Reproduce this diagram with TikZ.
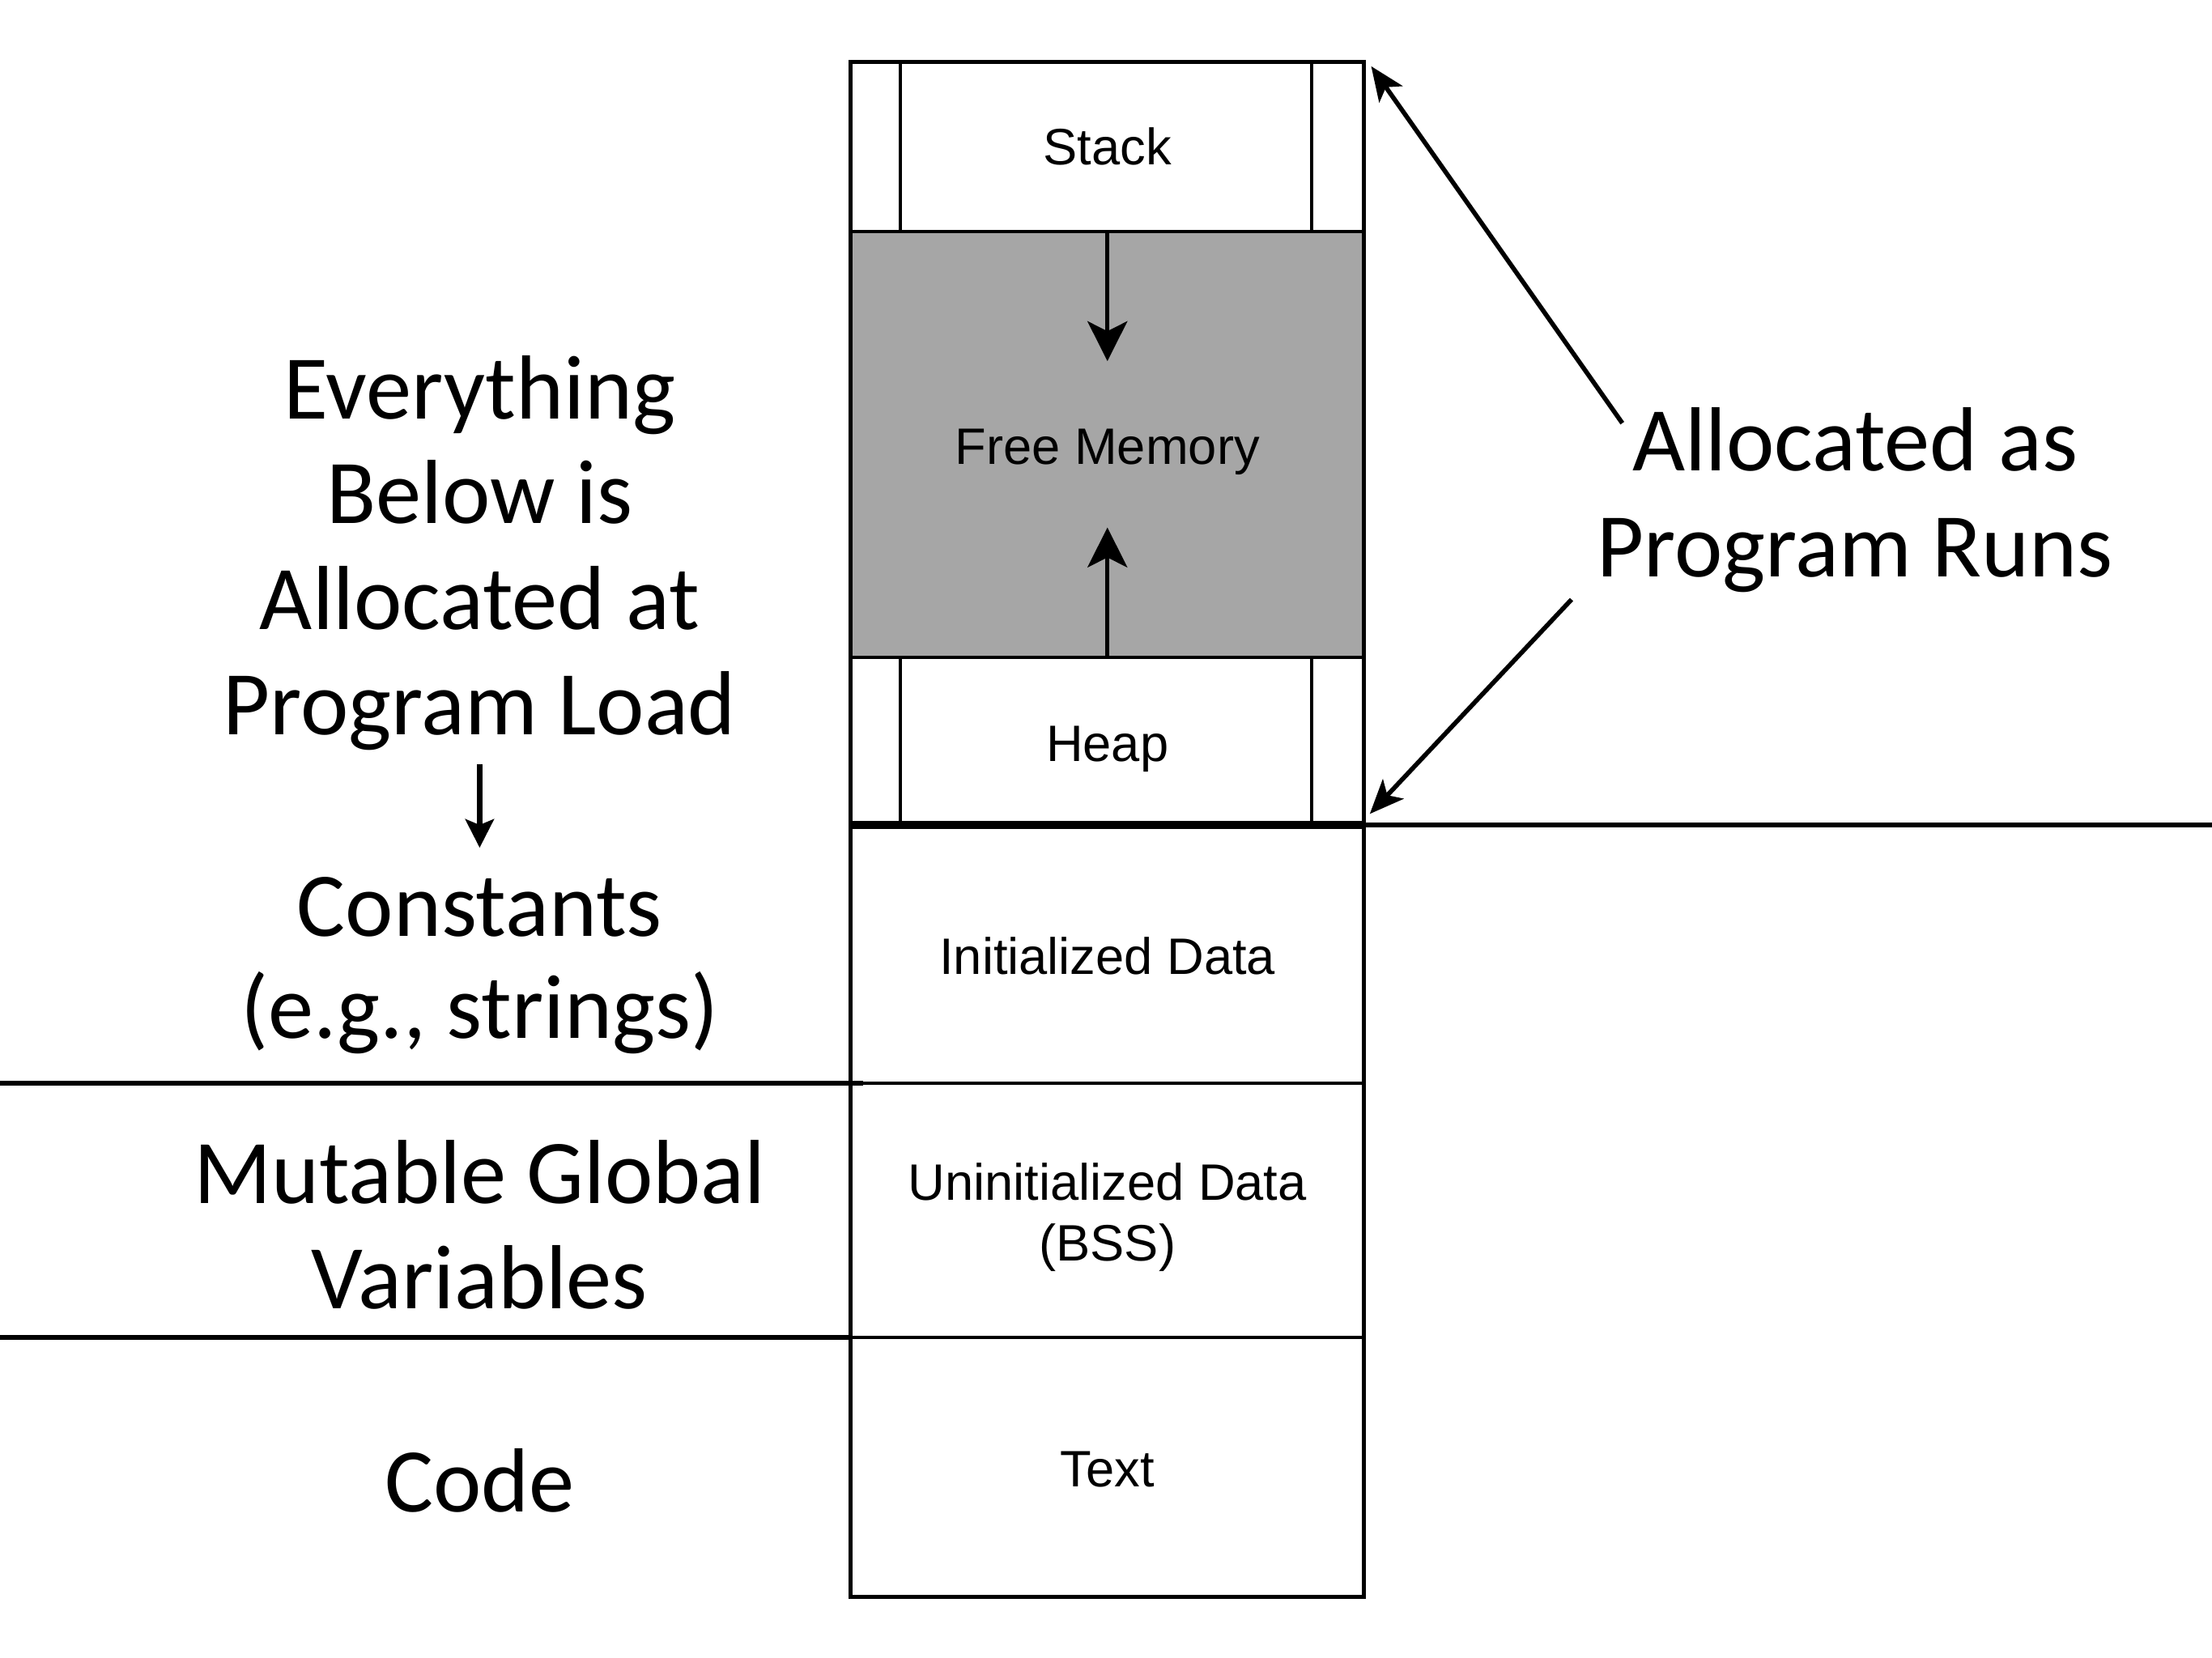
\documentclass[tikz,border=0pt]{standalone}
\usepackage{fontspec}
\usetikzlibrary{arrows.meta}
\newfontfamily\segfont{Liberation Sans}
\newfontfamily\notefont{Carlito}
\definecolor{freegray}{HTML}{A6A6A6}
\tikzset{
  seglabel/.style={anchor=base, inner sep=0pt, font=\segfont\fontsize{18}{21.5}\selectfont},
  notelabel/.style={anchor=base, inner sep=0pt, font=\notefont\fontsize{32}{37}\selectfont},
  border/.style={line width=1.5pt},
  divider/.style={line width=1.1pt},
  splitline/.style={line width=2.8pt},
  guideline/.style={line width=1.8pt},
  rail/.style={line width=1.1pt},
  growth/.style={line width=1.4pt, -{Stealth[length=14pt,width=14pt,inset=3.5pt]}},
  callout/.style={line width=1.6pt, -{Stealth[length=12pt,width=10pt,inset=3pt]}},
  downmark/.style={line width=1.9pt, -{Stealth[length=10pt,width=10pt,inset=2pt]}}
}
\begin{document}
\begin{tikzpicture}[x=0.017423cm, y=-0.017423cm]
\useasboundingbox (0,0) rectangle (1568,1175);

% free memory region
\fill[freegray] (603,164) rectangle (967,466);

% guide lines across the page
\draw[guideline] (0,768) -- (612,768);
\draw[guideline] (0,948) -- (603,948);
\draw[line width=1.6pt] (967,585) -- (1568,585);

% segment dividers
\draw[divider] (603,164) -- (967,164);
\draw[divider] (603,466) -- (967,466);
\draw[divider] (603,768) -- (967,768);
\draw[divider] (603,948) -- (967,948);
\draw[splitline] (603,585) -- (967,585);

% side rails of stack and heap
\draw[rail] (638,44) -- (638,164);
\draw[rail] (930,44) -- (930,164);
\draw[rail] (638,466) -- (638,585);
\draw[rail] (930,466) -- (930,585);

% outer frame
\draw[border] (603,44) rectangle (967,1132);

% corner points
\coordinate (topcorner) at (972,47);
\coordinate (heapcorner) at (971,577);
\coordinate (stackedge) at (785,164);
\coordinate (heapedge) at (785,466);
\coordinate (downtip) at (785,256);
\coordinate (uptip) at (785,374);

% segment labels
\node[seglabel] (stack) at (785,117) {Stack};
\node[seglabel] (free) at (785,329) {Free Memory};
\node[seglabel] (heap) at (785,540) {Heap};
\node[seglabel] (init) at (785,691) {Initialized Data};
\node[seglabel] (uninitA) at (785,851) {Uninitialized Data};
\node[seglabel] (uninitB) at (785,894) {(BSS)};
\node[seglabel] (text) at (785,1054) {Text};

% growth arrows
\draw[growth] (stackedge) -- (downtip);
\draw[growth] (heapedge) -- (uptip);

% left notes
\node[notelabel] (loadA) at (340,297) {Everything};
\node[notelabel] (loadB) at (340,371) {Below is};
\node[notelabel] (loadC) at (340,446) {Allocated at};
\node[notelabel] (loadD) at (340,521) {Program Load};
\coordinate (marktop) at (340,542);
\coordinate (markend) at (340,601);
\draw[downmark] (marktop) -- (markend);
\node[notelabel] (constA) at (340,664) {Constants};
\node[notelabel] (constB) at (340,736) {(e.g., strings)};
\node[notelabel] (mutA) at (340,853) {Mutable Global};
\node[notelabel] (mutB) at (340,928) {Variables};
\node[notelabel] (code) at (340,1072) {Code};

% right note
\node[notelabel] (runA) at (1315,334) {Allocated as};
\node[notelabel] (runB) at (1315,409) {Program Runs};
\coordinate (runtop) at (1150,300);
\coordinate (runlow) at (1114,425);
\draw[callout] (runtop) -- (topcorner);
\draw[callout] (runlow) -- (heapcorner);
\end{tikzpicture}
\end{document}
